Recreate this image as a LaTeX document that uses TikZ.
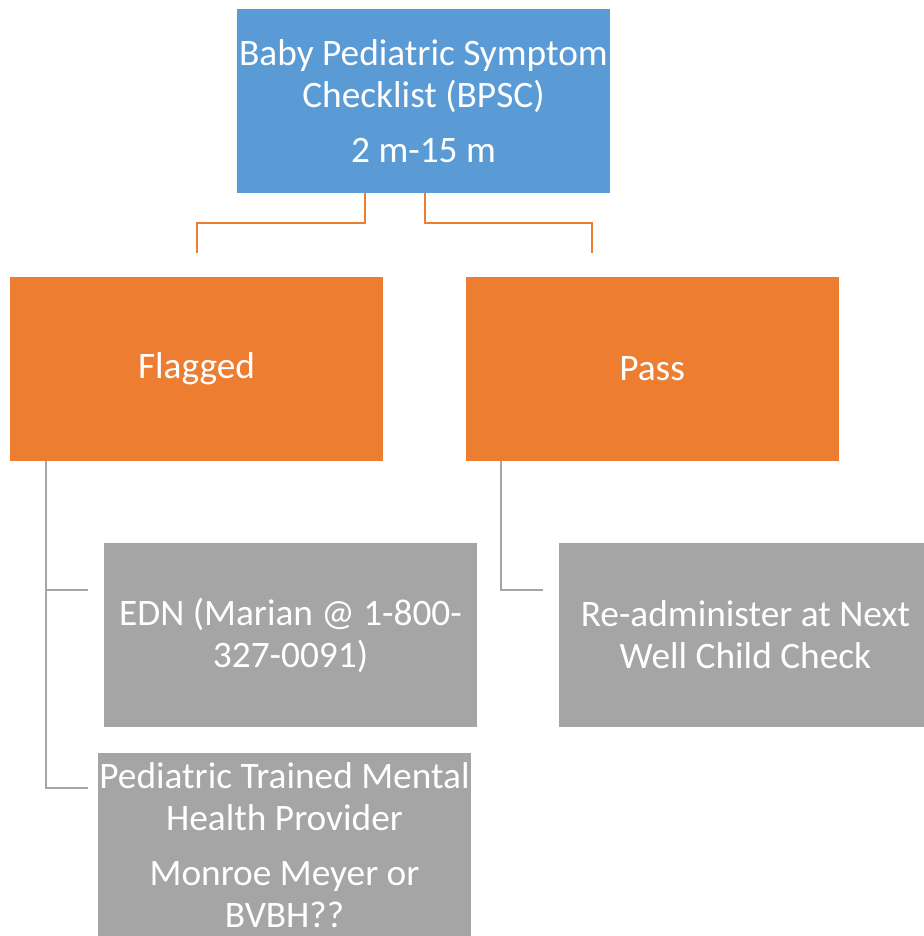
\documentclass[tikz,border=0pt]{standalone}
\usepackage{fontspec}
\setmainfont{Carlito}
\usetikzlibrary{positioning}
\definecolor{bpscblue}{HTML}{5B9BD5}
\definecolor{bpscorange}{HTML}{ED7D31}
\definecolor{bpscgray}{HTML}{A5A5A5}
\tikzset{
  box/.style={minimum width=279.75pt, minimum height=138pt, inner sep=0pt,
    align=center, text=white, font={\fontsize{28}{31.5}\selectfont}},
  topbox/.style={box, fill=bpscblue},
  midbox/.style={box, fill=bpscorange},
  leafbox/.style={box, fill=bpscgray},
  orangeline/.style={draw=bpscorange, line width=1.5pt},
  grayline/.style={draw=bpscgray, line width=1.5pt}
}
\begin{document}
\begin{tikzpicture}[x=0.75pt, y=-0.75pt]
  \useasboundingbox[fill=white] (0,0) rectangle (924,936);
  \node (bpsc) [topbox] at (423.5,101) {Baby Pediatric Symptom\\Checklist (BPSC)\\[9.75pt]2 m-15 m};
  \node (flagged) [midbox] at (196.5,368.5) {Flagged};
  \node (pass) [midbox, right=61.5pt of flagged] {Pass};
  \node (edn) [leafbox] at (290.5,635) {EDN (Marian @ 1-800-\\327-0091)};
  \node (readmin) [leafbox] at (745.5,635) {Re-administer at Next\\Well Child Check};
  \node (provider) [leafbox] at (284.5,845) {Pediatric Trained Mental\\Health Provider\\[9.75pt]Monroe Meyer or\\BVBH??};
  % connector ends
  \coordinate (flagged-in) at (196.5,253);
  \coordinate (pass-in) at (592,253);
  \coordinate (edn-in) at (88,590);
  \coordinate (provider-in) at (88,788);
  \coordinate (readmin-in) at (543,590);
  \draw[orangeline] (bpsc.south) ++(-58.5,0) -- ++(0,30) -| (flagged-in);
  \draw[orangeline] (bpsc.south) ++(1.5,0) -- ++(0,30) -| (pass-in);
  \draw[grayline] (flagged.south west) ++(36,0) |- (edn-in);
  \draw[grayline] (flagged.south west) ++(36,0) |- (provider-in);
  \draw[grayline] (pass.south west) ++(36,0) |- (readmin-in);
\end{tikzpicture}
\end{document}
